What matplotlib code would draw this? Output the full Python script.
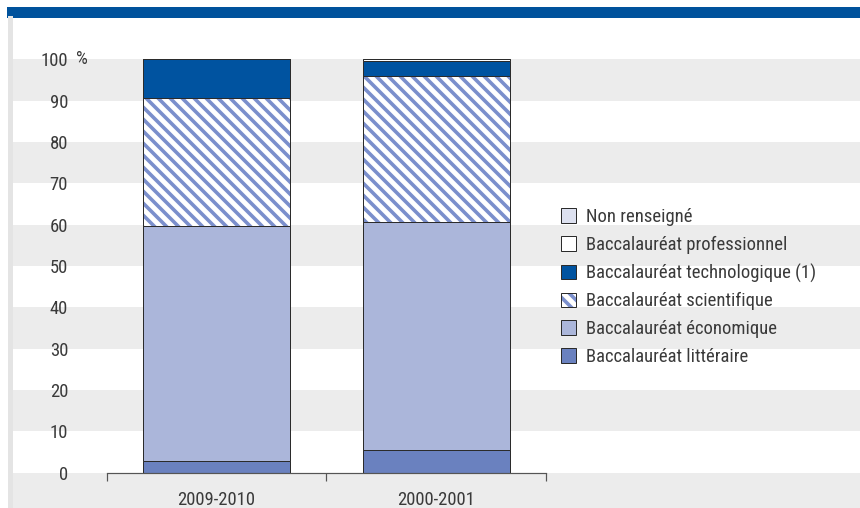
import numpy as np
import matplotlib
matplotlib.use('Agg')
import matplotlib.pyplot as plt
import matplotlib.patches as mpatches
from matplotlib.transforms import blended_transform_factory

# ── COLORS ───────────────────────────────────────────────────
BAND   = '#00529c'
TECH   = '#0053a0'
ECO    = '#abb6da'
LITT   = '#6a81bf'
HATCH  = '#7b8fcc'
NONREN = '#dde1f0'
GRAYBG = '#ececec'
EDGE   = '#2b2b2b'
TEXT   = '#3a3a3a'

# ── DATA ─────────────────────────────────────────────────────
categories    = ['2009-2010', '2000-2001']
litteraire    = [2.9, 5.4]
economique    = [56.8, 55.2]
scientifique  = [30.9, 35.4]
technologique = [9.4, 3.5]
professionnel = [0.0, 0.5]
non_renseigne = [0.0, 0.0]
yticks        = [0, 10, 20, 30, 40, 50, 60, 70, 80, 90, 100]
ytick_labels  = ['0', '10', '20', '30', '40', '50', '60', '70', '80', '90', '100']

BS = chr(92) * 4   # dense diagonal hatch, top-left to bottom-right

series = [
    ('Baccalauréat littéraire', litteraire, LITT, None),
    ('Baccalauréat économique', economique, ECO, None),
    ('Baccalauréat scientifique', scientifique, 'white', BS),
    ('Baccalauréat technologique (1)', technologique, TECH, None),
    ('Baccalauréat professionnel', professionnel, 'white', None),
    ('Non renseigné', non_renseigne, NONREN, None),
]

FONT = ['Roboto Condensed', 'Archivo Narrow', 'PT Sans Narrow', 'DejaVu Sans']
plt.rcParams['font.family'] = FONT
plt.rcParams['hatch.linewidth'] = 1.8
FS = 9.3

W, H, DPI = 860, 508, 144
fig = plt.figure(figsize=(W / DPI, H / DPI), dpi=DPI)
fig.patch.set_facecolor('white')

# axes placed in pixel terms
x0, x1 = 106.7, 546.0
y_top, y_bot = 59.3, 472.7
ax = fig.add_axes([x0 / W, 1 - y_bot / H, (x1 - x0) / W, (y_bot - y_top) / H])
ax.set_facecolor('none')
ax.set_xlim(-0.5, 1.5)
ax.set_ylim(0, 100)

# header band and left rule
fig.patches.append(mpatches.Rectangle((8 / W, 1 - 16.7 / H), 1, 8.7 / H,
                                      transform=fig.transFigure, color=BAND, zorder=0))
fig.patches.append(mpatches.Rectangle((8.5 / W, 0), 3 / W, 1 - 16.7 / H,
                                      transform=fig.transFigure, color='#e4e4e4', zorder=0))

# alternating gray bands across the whole width
trans = blended_transform_factory(fig.transFigure, ax.transData)
for lo, hi in [(90, 100), (70, 80), (50, 60), (30, 40), (10, 20), (-30, 0)]:
    ax.add_patch(mpatches.Rectangle((11.7 / W, lo), 1, hi - lo, transform=trans,
                                    color=GRAYBG, zorder=0, clip_on=False, lw=0))

# stacked bars
xpos = np.arange(len(categories))
bw = 0.668
bottom = np.zeros(len(categories))
handles = []
for label, vals, color, hatch in series:
    vals = np.array(vals)
    if hatch:
        ax.bar(xpos, vals, bw, bottom=bottom, color=color, hatch=hatch,
               edgecolor=HATCH, linewidth=0, zorder=2)
        ax.bar(xpos, vals, bw, bottom=bottom, fill=False,
               edgecolor=EDGE, linewidth=0.5, zorder=3)
        h = (mpatches.Patch(facecolor=color, hatch=hatch, edgecolor=HATCH, linewidth=0),
             mpatches.Patch(fill=False, edgecolor=EDGE, linewidth=0.5))
    else:
        ax.bar(xpos, vals, bw, bottom=bottom, color=color,
               edgecolor=EDGE, linewidth=0.5, zorder=2)
        h = mpatches.Patch(facecolor=color, edgecolor=EDGE, linewidth=0.5)
    handles.append((h, label))
    bottom += vals

# axes styling
for side in ['top', 'right', 'left']:
    ax.spines[side].set_visible(False)
ax.spines['bottom'].set_color('#555555')
ax.spines['bottom'].set_linewidth(0.6)
ax.set_xticks([-0.5, 0.5, 1.5])
ax.set_xticklabels([])
ax.tick_params(axis='x', which='major', length=4, width=0.6, color='#555555')
ax.set_xticks(xpos, minor=True)
ax.set_xticklabels(categories, minor=True)
ax.tick_params(axis='x', which='minor', length=0, pad=9, labelsize=FS, labelcolor=TEXT)

ax.set_yticks(yticks)
ax.set_yticklabels(ytick_labels)
ax.tick_params(axis='y', length=0, pad=19.3, labelsize=FS, labelcolor=TEXT)
ax.text(76 / W, 100, '%', transform=trans, ha='left', va='center',
        fontsize=FS, color=TEXT)

# legend (top entry first)
handles = handles[::-1]
leg = fig.legend([h for h, _ in handles], [l for _, l in handles],
                 loc='upper left', bbox_to_anchor=(560.5 / W, 1 - 208 / H),
                 frameon=False, fontsize=FS, handlelength=0.82, handleheight=0.82,
                 handletextpad=0.57, labelspacing=0.52, borderpad=0, borderaxespad=0)
for t in leg.get_texts():
    t.set_color(TEXT)

fig.savefig('out.png', dpi=DPI, facecolor='white')
